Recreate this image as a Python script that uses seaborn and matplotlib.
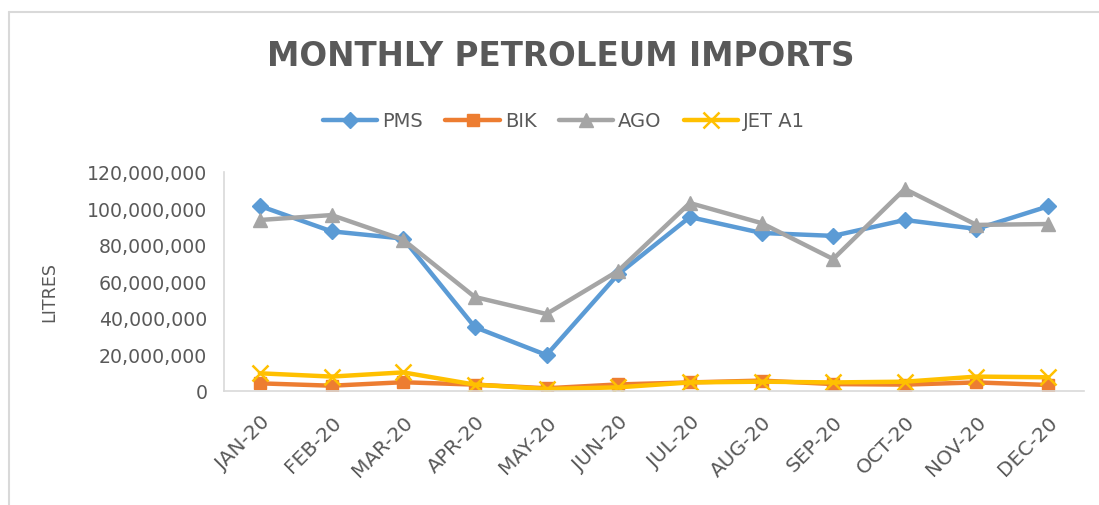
import matplotlib
matplotlib.use("Agg")
import matplotlib.pyplot as plt
import matplotlib.ticker as mticker
from matplotlib.lines import Line2D
import seaborn as sns
import pandas as pd
import numpy as np

months = ["JAN-20", "FEB-20", "MAR-20", "APR-20", "MAY-20", "JUN-20",
          "JUL-20", "AUG-20", "SEP-20", "OCT-20", "NOV-20", "DEC-20"]
pms = [101.4e6, 87.5e6, 83.5e6, 35.0e6, 19.7e6, 64.0e6,
       95.3e6, 86.6e6, 85.0e6, 93.7e6, 88.8e6, 101.2e6]
bik = [4.2e6, 2.9e6, 4.8e6, 3.5e6, 1.5e6, 3.6e6,
       4.7e6, 5.7e6, 3.8e6, 3.5e6, 4.7e6, 3.3e6]
ago = [93.7e6, 96.4e6, 82.9e6, 51.5e6, 42.2e6, 65.8e6,
       103.0e6, 92.0e6, 72.3e6, 110.7e6, 91.0e6, 91.5e6]
jet = [9.7e6, 7.9e6, 10.2e6, 3.5e6, 1.1e6, 2.0e6,
       4.7e6, 5.1e6, 4.7e6, 5.1e6, 7.9e6, 7.5e6]
series_names = ["PMS", "BIK", "AGO", "JET A1"]
colors = ["#5B9BD5", "#ED7D31", "#A5A5A5", "#FFC000"]
title = "MONTHLY PETROLEUM IMPORTS"
ylabel = "LITRES"

df = pd.DataFrame({
    "month": months * 4,
    "litres": pms + bik + ago + jet,
    "fuel": np.repeat(series_names, len(months)),
})

sns.set_theme(style="white")
plt.rcParams["font.family"] = ["DejaVu Sans"]
text_color = "#595959"

fig = plt.figure(figsize=(10.99, 5.06), dpi=100)
ax = fig.add_axes([224 / 1099, 1 - 392 / 506, (1084 - 224) / 1099, (392 - 173) / 506])

markers = {"PMS": "D", "BIK": "s", "AGO": "^", "JET A1": "x"}
sizes_ms = {"PMS": 8.5, "BIK": 9, "AGO": 10, "JET A1": 11}
for name, col in zip(series_names, colors):
    sub = df[df["fuel"] == name]
    sns.lineplot(data=sub, x="month", y="litres", color=col, marker=markers[name],
                 markersize=sizes_ms[name], markeredgecolor=col,
                 markeredgewidth=1.8 if name == "JET A1" else 1,
                 linewidth=3.2, ax=ax, label=name, sort=False)

ax.set_xlim(-0.5, len(months) - 0.5)
ax.set_ylim(0, 120e6)
ax.yaxis.set_major_locator(mticker.MultipleLocator(20e6))
ax.yaxis.set_major_formatter(mticker.FuncFormatter(lambda v, p: f"{int(v):,}"))

for s in ["top", "right"]:
    ax.spines[s].set_visible(False)
ax.spines["left"].set_color("#D9D9D9")
ax.spines["bottom"].set_color("#D9D9D9")
ax.spines["left"].set_linewidth(1.2)
ax.spines["bottom"].set_linewidth(1.2)

ax.set_xticks(range(len(months)))
ax.set_xticklabels(months, rotation=45, ha="right", rotation_mode="anchor",
                   fontsize=14.5, color=text_color)
ax.set_xticks(np.arange(-0.5, len(months), 1), minor=True)
ax.tick_params(axis="x", which="major", length=0, pad=15)
ax.tick_params(axis="x", which="minor", length=7, width=1.2, color="#D9D9D9", direction="out")
ax.tick_params(axis="y", length=0, labelsize=13.6, labelcolor=text_color, pad=12)
ax.grid(False)
ax.set_xlabel("")
ax.set_ylabel(ylabel, fontsize=12.6, color=text_color)
ax.yaxis.set_label_coords(-(224 - 58) / 860, (392 - 292) / 219)

handles, labels = ax.get_legend_handles_labels()
ax.get_legend().remove()
leg = fig.legend(handles, labels, loc="center", bbox_to_anchor=(564 / 1099, 1 - 122 / 506),
                 ncol=4, frameon=False, fontsize=14, handlelength=2.8,
                 columnspacing=1.15, handletextpad=0.25, labelcolor=text_color)

fig.text(561 / 1099, 1 - 57 / 506, title, ha="center", va="center",
         fontsize=23.5, fontweight="bold", color=text_color)

top_y = 1 - 13 / 506
left_x = 9 / 1099
fig.add_artist(Line2D([left_x, 1.0], [top_y, top_y], transform=fig.transFigure,
                      color="#D9D9D9", linewidth=1.5))
fig.add_artist(Line2D([left_x, left_x], [0.0, top_y], transform=fig.transFigure,
                      color="#D9D9D9", linewidth=1.5))

fig.savefig("out.png", dpi=100, facecolor="white")
